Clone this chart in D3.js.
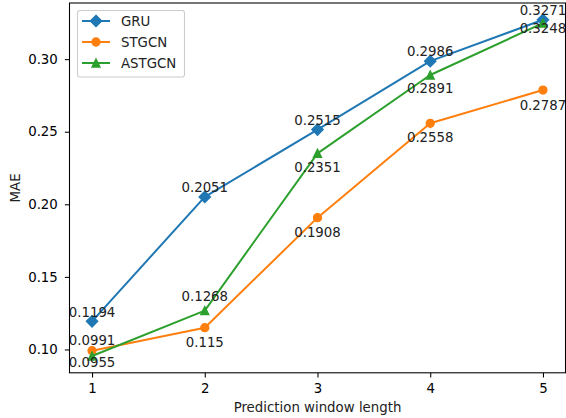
<!DOCTYPE html>
<html><head><meta charset="utf-8">
<script src="https://cdn.jsdelivr.net/npm/d3@7"></script>
<style>body{margin:0;background:#fff}svg{display:block}text{font-family:"DejaVu Sans",sans-serif;}</style>
</head><body>
<svg id="c" width="566" height="418"></svg>
<script>
const windows = [1, 2, 3, 4, 5];
const gru = [0.1194, 0.2051, 0.2515, 0.2986, 0.3271];
const stgcn = [0.0991, 0.115, 0.1908, 0.2558, 0.2787];
const astgcn = [0.0955, 0.1268, 0.2351, 0.2891, 0.3248];
const seriesNames = ["GRU", "STGCN", "ASTGCN"];
const yTicks = [0.10, 0.15, 0.20, 0.25, 0.30];

// styling (kept separate from the data)
const colors = ["#1f77b4", "#ff7f0e", "#2ca02c"];
const markerTypes = ["diamond", "circle", "triangle"];
const labelDy = [
  [-4.5, -4.5, -4.5, -5.5, -4.7],
  [-5.8, 19, 19, 19, 19.5],
  [11, -9.6, 19, 18.4, 10]
];

const seriesValues = [gru, stgcn, astgcn];
const series = seriesNames.map((n, i) => ({name: n, values: seriesValues[i]}));

const svg = d3.select("#c");
const L = 69.5, R = 565.5, T = 3, B = 372.8;
const x = d3.scaleLinear().domain([0.8, 5.2]).range([L, R]);
const all = gru.concat(stgcn, astgcn);
const mn = d3.min(all), mx = d3.max(all), pad = (mx - mn) * 0.05;
const y = d3.scaleLinear().domain([mn - pad, mx + pad]).range([B, T]);

const fs = "13.33px";
const xa = svg.append("g").attr("transform", `translate(0,${B})`)
  .call(d3.axisBottom(x).tickValues(windows).tickFormat(d3.format("d")).tickSize(4.67).tickPadding(6.5));
const ya = svg.append("g").attr("transform", `translate(${L},0)`)
  .call(d3.axisLeft(y).tickValues(yTicks).tickFormat(d3.format(".2f")).tickSize(4.67).tickPadding(7));
[xa, ya].forEach(a => {
  a.select(".domain").remove();
  a.selectAll("line").attr("stroke", "#000").attr("stroke-width", 1.07);
  a.selectAll("text").attr("font-size", fs).attr("fill", "#000").attr("font-family", "DejaVu Sans");
});

function markerPath(type) {
  if (type === "diamond") return "M0,-5.66L5.66,0L0,5.66L-5.66,0Z";
  if (type === "triangle") return "M0,-4L4,4L-4,4Z";
  return d3.symbol().type(d3.symbolCircle).size(50)();
}

const plot = svg.append("g");
series.forEach((s, i) => {
  const line = d3.line().x((d, j) => x(windows[j])).y(d => y(d));
  plot.append("path").datum(s.values).attr("d", line).attr("fill", "none")
    .attr("stroke", colors[i]).attr("stroke-width", 2).attr("stroke-linejoin", "round");
  plot.selectAll(null).data(s.values).enter().append("path")
    .attr("d", markerPath(markerTypes[i]))
    .attr("transform", (d, j) => `translate(${x(windows[j])},${y(d)})`)
    .attr("fill", colors[i]).attr("stroke", colors[i]).attr("stroke-width", 1.33);
});
series.forEach((s, i) => {
  svg.selectAll(null).data(s.values).enter().append("text")
    .attr("x", (d, j) => x(windows[j]))
    .attr("y", (d, j) => y(d) + labelDy[i][j])
    .attr("text-anchor", "middle").attr("font-size", fs).attr("fill", "#222")
    .text(d => String(d));
});

svg.append("rect").attr("x", L).attr("y", T).attr("width", R - L).attr("height", B - T)
  .attr("fill", "none").attr("stroke", "#000").attr("stroke-width", 1.07);

svg.append("text").attr("x", (L + R) / 2).attr("y", 411.5).attr("text-anchor", "middle")
  .attr("font-size", fs).attr("fill", "#222").text("Prediction window length");
svg.append("text").attr("transform", `translate(19.5,${(T + B) / 2}) rotate(-90)`)
  .attr("text-anchor", "middle").attr("font-size", fs).attr("fill", "#222").text("MAE");

const lg = svg.append("g");
lg.append("rect").attr("x", 77.5).attr("y", 10.5).attr("width", 107).attr("height", 66.5)
  .attr("rx", 2.5).attr("fill", "#fff").attr("fill-opacity", 0.8).attr("stroke", "#ccc").attr("stroke-width", 1.07);
series.forEach((s, i) => {
  const cy = 21 + i * 21;
  lg.append("line").attr("x1", 82).attr("x2", 110).attr("y1", cy).attr("y2", cy)
    .attr("stroke", colors[i]).attr("stroke-width", 2);
  lg.append("path").attr("d", markerPath(markerTypes[i]))
    .attr("transform", `translate(96,${cy})`)
    .attr("fill", colors[i]).attr("stroke", colors[i]).attr("stroke-width", 1.33);
  lg.append("text").attr("x", 121).attr("y", cy + 4.8).attr("font-size", fs).attr("fill", "#222").text(s.name);
});
</script>
</body></html>
